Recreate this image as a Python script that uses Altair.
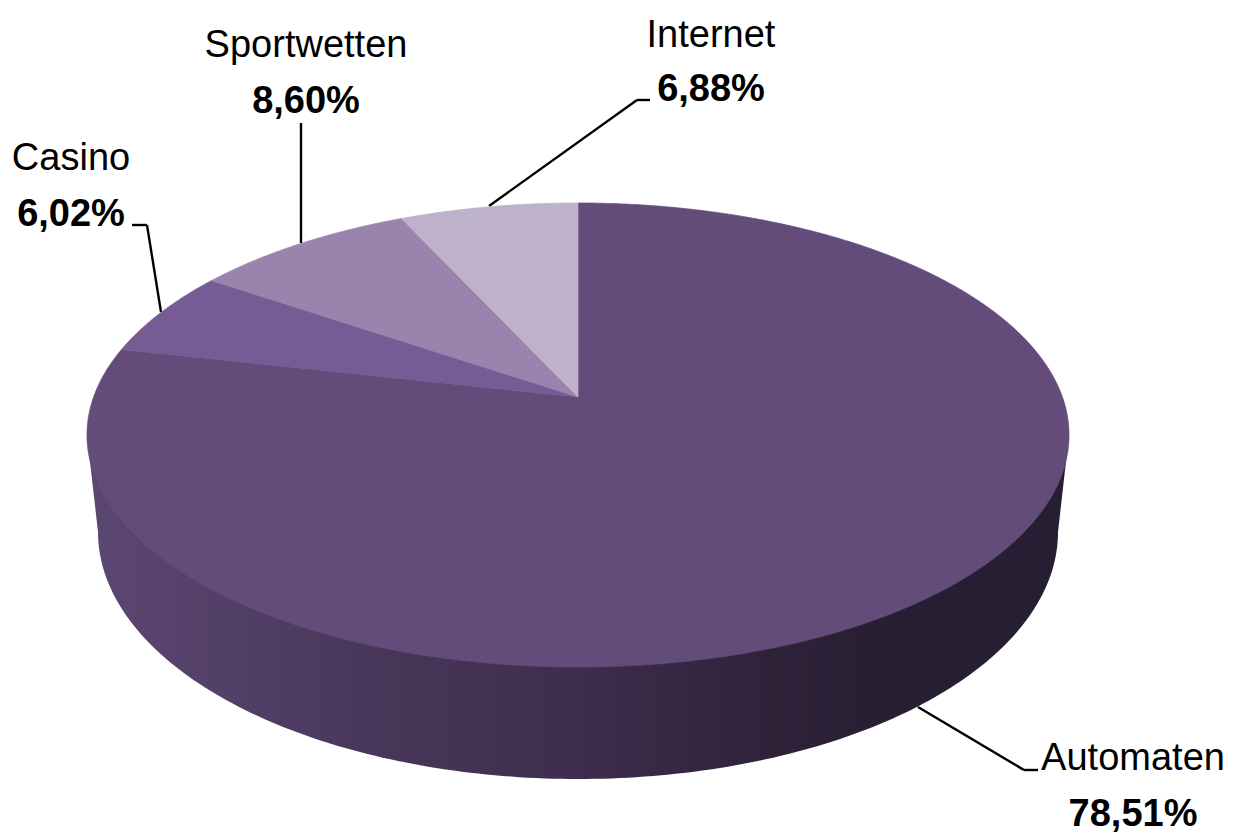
import math
import altair as alt

# values
categories = ["Automaten", "Casino", "Sportwetten", "Internet"]
shares = [78.51, 6.02, 8.60, 6.88]
share_labels = ["78,51%", "6,02%", "8,60%", "6,88%"]
colors = ["#634c7a", "#775b94", "#9a84ae", "#bdb2ca"]

W, H = 1218, 827
OX, OY = 8, 8
APEX_X, APEX_Y = 578, 397      # page position of the pie's centre
A, B, K = 484.4, 225.8, 0.1638  # perspective of the top face
BOT_RX, BOT_RY, BOT_CY = 480, 247, 532  # base ellipse
TOP_RX, TOP_CY = 491, 435
FONT = "Liberation Sans"
FS = 38


def top_pt(deg):
    t = math.radians(deg)
    w = 1 + K * math.cos(t)
    return [math.sin(t) / w, (B / A) * math.cos(t) / w]


def sector(start, end):
    n = max(2, int(abs(end - start) / 0.5))
    pts = [[0.0, 0.0]]
    pts += [top_pt(start + (end - start) * i / n) for i in range(n + 1)]
    pts.append([0.0, 0.0])
    return pts


features = []
cum = 0.0
total = sum(shares)
for name, s in zip(categories, shares):
    a0 = cum / total * 360
    cum += s
    a1 = cum / total * 360
    features.append({"type": "Feature",
                     "properties": {"name": name},
                     "geometry": {"type": "Polygon", "coordinates": [sector(a0, a1)]}})


def to_unit(px, py):
    return [(px - APEX_X) / A, (APEX_Y - py) / A]


wall = [to_unit(APEX_X - TOP_RX, TOP_CY)]
for i in range(181):
    t = math.radians(i)
    wall.append(to_unit(APEX_X - BOT_RX * math.cos(t), BOT_CY + BOT_RY * math.sin(t)))
wall.append(to_unit(APEX_X + TOP_RX, TOP_CY))
wall.append(wall[0])
wall_feature = {"type": "Feature", "properties": {"name": "wall"},
                "geometry": {"type": "Polygon", "coordinates": [wall]}}

wall_layer = alt.Chart(alt.Data(values=[wall_feature])).mark_geoshape(
    fill=alt.Gradient(
        gradient="linear", x1=0, x2=1, y1=0, y2=0,
        stops=[
            alt.GradientStop(offset=0.0, color="#5c4773"),
            alt.GradientStop(offset=0.27, color="#4a385c"),
            alt.GradientStop(offset=0.5, color="#3e2d4c"),
            alt.GradientStop(offset=0.7, color="#2e2239"),
            alt.GradientStop(offset=0.85, color="#261e32"),
            alt.GradientStop(offset=1.0, color="#261e32"),
        ],
    )
).project(type="identity", scale=A, reflectY=True, translate=[APEX_X - OX, APEX_Y - OY])

scale = alt.Scale(domain=categories, range=colors)
top_layer = alt.Chart(alt.Data(values=features)).mark_geoshape(strokeWidth=0.7).encode(
    color=alt.Color("properties.name:N", scale=scale, legend=None),
    stroke=alt.Stroke("properties.name:N", scale=scale, legend=None),
).project(type="identity", scale=A, reflectY=True, translate=[APEX_X - OX, APEX_Y - OY])

# leader lines, page pixels
leaders = [
    (489, 206, 637, 100), (637, 100, 650, 100),
    (301, 243, 301, 123),
    (132, 225, 147, 225), (147, 225, 161, 312),
    (918, 707, 1024, 770), (1024, 770, 1038, 770),
]
leader_rows = [{"x": a - OX, "y": b - OY, "x2": c - OX, "y2": d - OY} for a, b, c, d in leaders]
leader_layer = alt.Chart(alt.Data(values=leader_rows)).mark_rule(
    color="#000000", strokeWidth=2.4
).encode(
    x=alt.X("x:Q", scale=None), y=alt.Y("y:Q", scale=None),
    x2="x2:Q", y2="y2:Q",
)

# label anchor per category: centre x, name baseline, value baseline
anchors = {
    "Internet": (711, 47, 101),
    "Sportwetten": (306, 57, 113),
    "Casino": (71, 170, 226),
    "Automaten": (1133, 770, 826),
}
name_rows = [{"x": anchors[c][0] - OX, "y": anchors[c][1] - OY, "t": c} for c in categories]
value_rows = [{"x": anchors[c][0] - OX, "y": anchors[c][2] - OY, "t": l}
              for c, l in zip(categories, share_labels)]


def text_layer(rows, weight):
    return alt.Chart(alt.Data(values=rows)).mark_text(
        font=FONT, fontSize=FS, fontWeight=weight, align="center",
        baseline="alphabetic", color="#000000",
    ).encode(
        x=alt.X("x:Q", scale=None), y=alt.Y("y:Q", scale=None), text="t:N",
    )


chart = alt.layer(
    leader_layer, wall_layer, top_layer,
    text_layer(name_rows, "normal"), text_layer(value_rows, "bold"),
).properties(
    width=W, height=H, padding=0, autosize=alt.AutoSizeParams(type="none"),
    background="#ffffff",
).configure_view(stroke=None)

chart.save("out.html", embed_options={"renderer": "svg", "actions": False})
